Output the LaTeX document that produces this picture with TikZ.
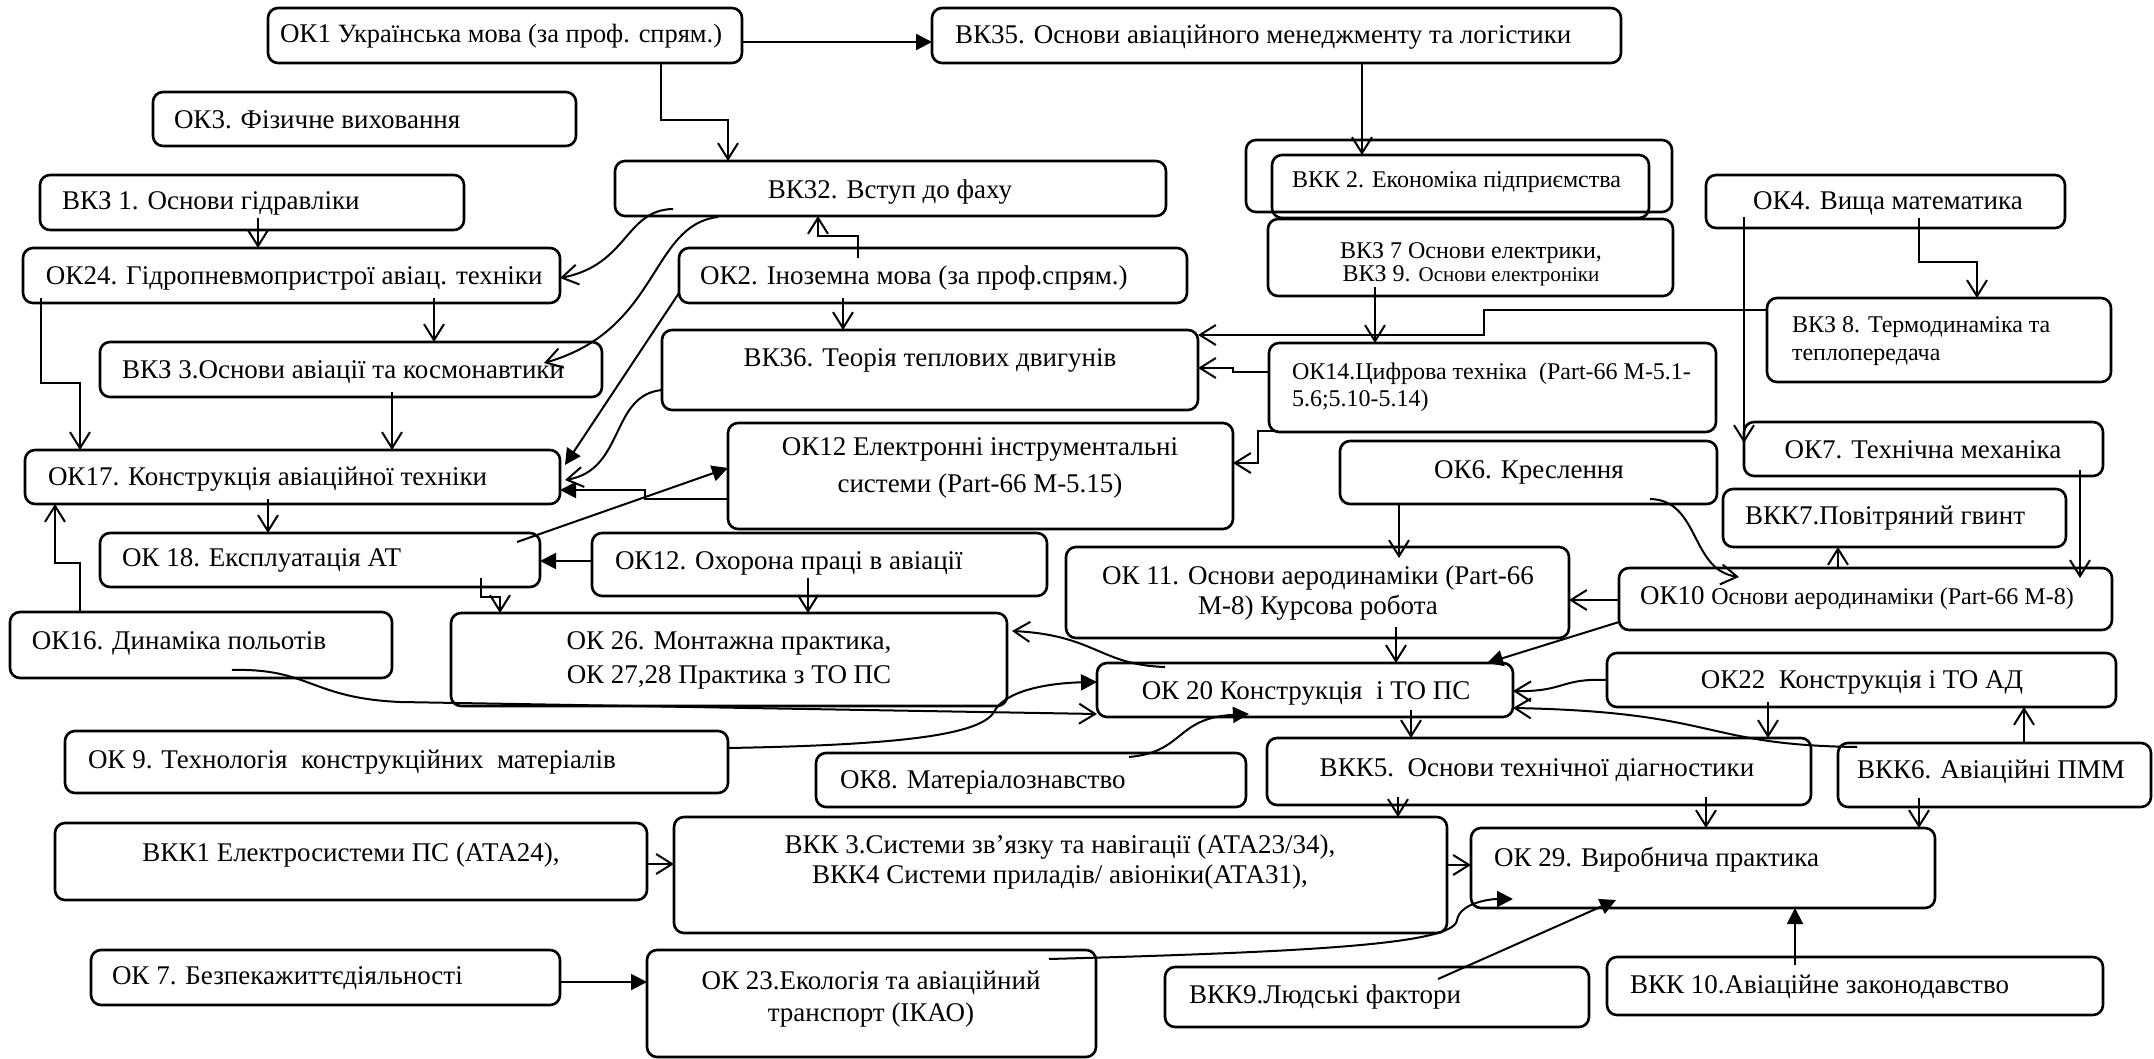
\documentclass[tikz,border=0pt]{standalone}
\usepackage{fontspec}
\setmainfont{Liberation Serif}
\usetikzlibrary{arrows.meta,calc}
\newcommand\FBig{\fontsize{13.5}{16}\selectfont}
\newcommand\FMid{\fontsize{12}{14}\selectfont}
\newcommand\FSm{\fontsize{10.5}{12}\selectfont}
\newcommand\RBox[5]{%
  \pgfmathsetmacro\bw{(#4-#2)/2}%
  \pgfmathsetmacro\bh{(#5-#3)/2}%
  \node[rbx, minimum width=\bw pt, minimum height=\bh pt] (#1) at ({(#2+#4)/2},{(#3+#5)/2}) {};%
}
\begin{document}
\begin{tikzpicture}[x=0.5pt,y=-0.5pt,
  rbx/.style={draw, line width=1.3pt, rounded corners=5pt, inner sep=0pt, outer sep=0pt},
  txt/.style={inner sep=0pt, outer sep=0pt, font=\FBig},
  ln/.style={line width=1pt},
  oa/.style={ln, -{Straight Barb[length=8pt,width=10pt]}},
  fa/.style={ln, -{Triangle[length=8pt,width=8pt]}}]
\fill[white] (0,0) rectangle (2154,1059);
\useasboundingbox (0,0) rectangle (2154,1059);

% boxes
\RBox{ok1}{268}{8}{742}{63}
\RBox{vk35}{932}{8}{1621}{63}
\RBox{ok3}{153}{92}{576}{146}
\RBox{vkz1}{40}{175}{464}{230}
\RBox{vk32}{615}{161}{1166}{216}
\RBox{ok24}{23}{248}{560}{303}
\RBox{ok2}{679}{248}{1187}{303}
\RBox{vkk2o}{1246}{140}{1672}{212}
\RBox{vkk2}{1272}{155}{1649}{218}
\RBox{vkz79}{1268}{219}{1673}{296}
\RBox{ok4}{1706}{175}{2065}{228}
\RBox{vkz3}{100}{342}{602}{397}
\RBox{vk36}{662}{330}{1198}{410}
\RBox{ok14}{1269}{343}{1716}{432}
\RBox{vkz8}{1767}{298}{2111}{382}
\RBox{ok17}{25}{450}{560}{504}
\RBox{ok12e}{728}{423}{1233}{529}
\RBox{ok6}{1340}{441}{1717}{504}
\RBox{ok7}{1744}{422}{2103}{476}
\RBox{vkk7}{1723}{489}{2066}{547}
\RBox{ok18}{100}{533}{540}{587}
\RBox{ok12p}{592}{533}{1047}{596}
\RBox{ok11}{1066}{547}{1569}{638}
\RBox{ok10}{1619}{568}{2112}{630}
\RBox{ok16}{10}{612}{392}{678}
\RBox{ok26}{451}{613}{1007}{706}
\RBox{ok20}{1097}{663}{1513}{717}
\RBox{ok22}{1607}{653}{2116}{707}
\RBox{ok9}{65}{731}{728}{793}
\RBox{ok8}{816}{753}{1246}{807}
\RBox{vkk5}{1267}{738}{1811}{805}
\RBox{vkk6}{1838}{743}{2151}{807}
\RBox{vkk1}{55}{823}{647}{900}
\RBox{vkk34}{674}{817}{1447}{933}
\RBox{ok29}{1471}{828}{1935}{908}
\RBox{ok7b}{91}{950}{560}{1005}
\RBox{ok23}{647}{950}{1096}{1057}
\RBox{vkk9}{1165}{967}{1589}{1027}
\RBox{vkk10}{1607}{957}{2103}{1015}

% texts
\node[txt, anchor=west] (ok1t) at (280,36) {ОК1 {\fontsize{13.2}{15}\selectfont Українська мова (за проф. спрям.)}};
\node[txt, anchor=west] (vk35t) at (955,37) {ВК35. Основи авіаційного менеджменту та логістики};
\node[txt, anchor=west] (ok3t) at (174,120) {ОК3. Фізичне виховання};
\node[txt, anchor=west] (vkz1t) at (62,203) {ВКЗ 1. Основи гідравліки};
\node[txt] (vk32t) at (890,192) {ВК32. Вступ до фаху};
\node[txt, anchor=west] (ok24t) at (46,278) {ОК24. Гідропневмопристрої авіац. техніки};
\node[txt, anchor=west] (ok2t) at (700,278) {ОК2. Іноземна мова (за проф.спрям.)};
\node[txt, anchor=west, font=\FMid] (vkk2t) at (1292,182) {ВКК 2. Економіка підприємства};
\node[txt, font=\FMid] (vkz7t) at (1471,253) {ВКЗ 7 Основи електрики,};
\node[txt, font=\FMid] (vkz9t) at (1471,276) {ВКЗ 9. {\FSm Основи електроніки}};
\node[txt, anchor=west] (ok4t) at (1753,203) {ОК4. Вища математика};
\node[txt, anchor=west] (vkz3t) at (122,372) {ВКЗ 3.Основи авіації та космонавтики};
\node[txt] (vk36t) at (930,360) {ВК36. Теорія теплових двигунів};
\node[txt, anchor=west, align=left, font=\fontsize{12}{13.5}\selectfont] (ok14t) at (1292,387) {ОК14.Цифрова техніка\ \ (Part-66 M-5.1-\\5.6;5.10-5.14)};
\node[txt, anchor=west, align=left, font=\fontsize{12}{14}\selectfont] (vkz8t) at (1792,341) {ВКЗ 8. Термодинаміка та\\теплопередача};
\node[txt, anchor=west] (ok17t) at (48,479) {ОК17. Конструкція авіаційної техніки};
\node[txt, align=center, font=\fontsize{13.5}{18.5}\selectfont] (ok12et) at (980,468) {ОК12 Електронні інструментальні\\системи (Part-66 M-5.15)};
\node[txt] (ok6t) at (1529,472) {ОК6. Креслення};
\node[txt] (ok7t) at (1923,450) {ОК7. Технічна механіка};
\node[txt, anchor=west] (vkk7t) at (1745,518) {ВКК7.Повітряний гвинт};
\node[txt, anchor=west] (ok18t) at (122,560) {ОК 18. Експлуатація АТ};
\node[txt, anchor=west] (ok12pt) at (615,563) {ОК12. Охорона праці в авіації};
\node[txt, align=center, font=\fontsize{13.5}{15}\selectfont] (ok11t) at (1318,593) {ОК 11. Основи аеродинаміки (Part-66\\М-8) Курсова робота};
\node[txt, anchor=west] (ok10t) at (1640,598) {ОК10 {\FMid Основи аеродинаміки (Part-66 M-8)}};
\node[txt, anchor=west] (ok16t) at (32,643) {ОК16. Динаміка польотів};
\node[txt, align=center, font=\fontsize{13.5}{17}\selectfont] (ok26t) at (729,660) {ОК 26. Монтажна практика,\\ОК 27,28 Практика з ТО ПС};
\node[txt] (ok20t) at (1306,693) {ОК 20 Конструкція\ \ і ТО ПС};
\node[txt] (ok22t) at (1862,682) {ОК22\ \ Конструкція і ТО АД};
\node[txt, anchor=west] (ok9t) at (88,762) {ОК 9. Технологія\ \ конструкційних\ \ матеріалів};
\node[txt, anchor=west] (ok8t) at (840,782) {ОК8. Матеріалознавство};
\node[txt] (vkk5t) at (1537,770) {ВКК5.\ \ Основи технічної діагностики};
\node[txt] (vkk6t) at (1991,772) {ВКК6. Авіаційні ПММ};
\node[txt] (vkk1t) at (351,855) {ВКК1 Електросистеми ПС (АТА24),};
\node[txt, align=center, font=\fontsize{13.5}{15}\selectfont] (vkk34t) at (1060,862) {ВКК 3.Системи зв’язку та навігації (АТА23/34),\\ВКК4 Системи приладів/ авіоніки(АТА31),};
\node[txt, anchor=west] (ok29t) at (1494,860) {ОК 29. Виробнича практика};
\node[txt, anchor=west] (ok7bt) at (112,978) {ОК 7. Безпекажиттєдіяльності};
\node[txt, align=center, font=\fontsize{13.5}{16}\selectfont] (ok23t) at (871,999) {ОК 23.Екологія та авіаційний\\транспорт (ІКАО)};
\node[txt, anchor=west] (vkk9t) at (1189,997) {ВКК9.Людські фактори};
\node[txt, anchor=west] (vkk10t) at (1630,987) {ВКК 10.Авіаційне законодавство};

% connectors
\draw[fa, line width=1.2pt] (ok1.east |- 0,42) -- (vk35.west |- 0,42);
\draw[oa] (ok1.south -| 661,0) |- (728,120) -- (vk32.north -| 728,0);
\draw[oa] (vk35.south -| 1362,0) -- (vkk2.north -| 1362,0);
\draw[oa] ($(vkz1.south -| 258,0)+(0,-12)$) -- (ok24.north -| 258,0);
\draw[oa] ($(vk32.south west)+(58,-7)$) .. controls (625,210) and (628,265) .. (ok24.east |- 0,278);
\draw[oa] ($(vk32.south west)+(103,1)$) .. controls (650,225) and (660,330) .. ($(vkz3.north east)+(-58,21)$);
\draw[oa] ($(ok2.north -| 858,0)+(0,10)$) |- (818,236) -- (vk32.south -| 818,0);
\draw[oa] ($(ok2.south -| 843,0)+(0,-5)$) -- (vk36.north -| 843,0);
\draw[oa] ($(ok24.south -| 434,0)+(0,-5)$) -- (vkz3.north -| 434,0);
\draw[oa] ($(ok24.south -| 41,0)+(0,-5)$) |- (80,383) -- (ok17.north -| 80,0);
\draw[oa] ($(vkz3.south -| 392,0)+(0,-5)$) -- (ok17.north -| 392,0);
\draw[fa] ($(ok2.south west)+(0,-10)$) -- ($(ok17.north east)+(5,15)$);
\draw[oa] (vk36.west |- 0,390) .. controls (610,395) and (625,470) .. ($(ok17.east |- 0,480)+(5,0)$);
\draw[fa] (ok12e.west |- 0,499) -- (645,499) -- (645,490) -- (ok17.east |- 0,490);
\draw[oa] ($(ok17.south -| 268,0)+(0,-5)$) -- (ok18.north -| 268,0);
\draw[fa] ($(ok18.north east)+(-23,9)$) -- (ok12e.west |- 0,468);
\draw[fa] (ok12p.west |- 0,561) -- (ok18.east |- 0,561);
\draw[oa] ($(ok18.south -| 481,0)+(0,-9)$) |- (500,597) -- (ok26.north -| 500,0);
\draw[oa] (ok16.north -| 80,0) |- (55,563) -- (ok17.south -| 55,0);
\draw[oa] ($(ok12p.south -| 808,0)+(0,-18)$) -- (ok26.north -| 808,0);
\draw[oa] (ok14.west |- 0,372) -- (1233,372) -- (1233,368) -- (vk36.east |- 0,368);
\draw[oa] (vkz8.west |- 0,310) -- (1484,310) -- (1484,335) -- (vk36.east |- 0,335);
\draw[oa] ($(vkz79.south -| 1375,0)+(0,-9)$) -- (ok14.north -| 1375,0);
\draw[oa] ($(ok14.south west)+(9,-1)$) -- (1258,431) -- (1258,463) -- (ok12e.east |- 0,463);
\draw[oa] ($(ok4.south -| 1919,0)+(0,-10)$) |- (1977,262) -- (vkz8.north -| 1977,0);
\draw[oa] ($(ok4.south west)+(38,-11)$) -- ($(ok7.north west)+(0,21)$);
\draw[oa] ($(ok7.south -| 2080,0)+(0,-6)$) -- ($(ok10.north -| 2080,0)+(0,10)$);
\draw[oa] (ok10.north -| 1838,0) -- (vkk7.south -| 1838,0);
\draw[oa] ($(ok6.south west)+(310,-5)$) .. controls (1700,500) and (1690,570) .. ($(ok10.north west)+(120,9)$);
\draw[oa] (ok6.south -| 1399,0) -- ($(ok11.north -| 1399,0)+(0,11)$);
\draw[oa] (ok10.west |- 0,600) -- (ok11.east |- 0,600);
\draw[fa] (ok10.west |- 0,622) -- ($(ok20.north east)+(-26,0)$);
\draw[oa] ($(ok11.south -| 1396,0)+(0,-11)$) -- (ok20.north -| 1396,0);
\draw[oa] (ok22.west |- 0,680) .. controls (1560,678) and (1565,692) .. (ok20.east |- 0,691);
\draw[oa] ($(vkk6.north west)+(19,4)$) .. controls (1700,745) and (1720,712) .. (ok20.east |- 0,708);
\draw[oa] ($(ok22.south -| 1768,0)+(0,-5)$) -- (vkk5.north -| 1768,0);
\draw[oa] (vkk6.north -| 2024,0) -- (ok22.south -| 2024,0);
\draw[oa] ($(ok20.south -| 1411,0)+(0,-7)$) -- (vkk5.north -| 1411,0);
\draw[oa] ($(ok20.north west)+(68,4)$) .. controls (1100,665) and (1095,635) .. ($(ok26.north east)+(5,18)$);
\draw[oa] ($(ok16.south west)+(222,-8)$) .. controls (310,668) and (310,698) .. (400,702) -- (ok20.west |- 0,714);
\draw[fa] (ok9.east |- 0,748) .. controls (900,745) and (980,735) .. (994,712) .. controls (1005,690) and (1050,683) .. (ok20.west |- 0,682);
\draw[fa] ($(ok8.north east)+(-117,4)$) .. controls (1185,752) and (1175,718) .. ($(ok20.south west)+(152,-3)$);
\draw[oa] ($(vkk5.south -| 1398,0)+(0,-8)$) -- (vkk34.north -| 1398,0);
\draw[oa] ($(vkk5.south -| 1706,0)+(0,-8)$) -- (ok29.north -| 1706,0);
\draw[oa] ($(vkk6.south -| 1919,0)+(0,-9)$) -- (ok29.north -| 1919,0);
\draw[oa] (vkk34.east |- 0,865) -- (ok29.west |- 0,865);
\draw[oa] (vkk1.east |- 0,864) -- (vkk34.west |- 0,864);
\draw[fa] (ok7b.east |- 0,982) -- (ok23.west |- 0,982);
\draw[fa] ($(ok23.north east)+(-47,9)$) .. controls (1300,952) and (1455,945) .. (1457,920) .. controls (1460,903) and (1490,899) .. ($(ok29.south west)+(42,-9)$);
\draw[fa] ($(vkk9.north west)+(273,12)$) -- ($(ok29.south west)+(145,-8)$);
\draw[fa] ($(vkk10.north -| 1795,0)+(0,8)$) -- (ok29.south -| 1795,0);
\end{tikzpicture}
\end{document}
